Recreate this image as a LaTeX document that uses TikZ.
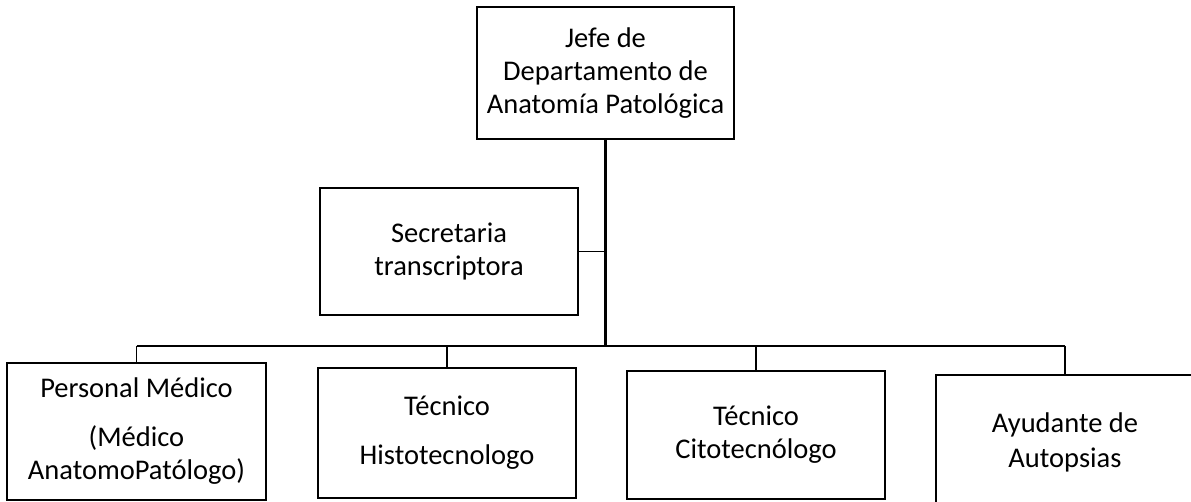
\documentclass[tikz,border=0pt]{standalone}
\usepackage{fontspec}
\setmainfont{Carlito}
\begin{document}
\begin{tikzpicture}[x=1pt,y=-1pt,
  orgbox/.style={draw=black,line width=1.8pt,rectangle,align=center,inner sep=0pt,
    font=\fontsize{28.5}{33}\selectfont},
  link/.style={draw=black,line width=2.6pt},
  thinlink/.style={draw=black,line width=1.6pt}]
\useasboundingbox (0,0) rectangle (1191,502);
\begin{scope}
\clip (0,0) rectangle (1191,502);
\node[orgbox,minimum width=257pt,minimum height=132pt] (top) at (605.5,73)
  {Jefe de\\Departamento de\\Anatomía Patológica};
\node[orgbox,minimum width=258pt,minimum height=127pt] (sec) at (449,251.5)
  {Secretaria\\transcriptora};
\node[orgbox,minimum width=259pt,minimum height=137pt] (b1) at (136.5,431.5)
  {Personal Médico\\[16pt](Médico\\AnatomoPatólogo)};
\node[orgbox,minimum width=258pt,minimum height=130pt] (b2) at (447,433)
  {Técnico\\[16pt]Histotecnologo};
\node[orgbox,minimum width=258pt,minimum height=128pt] (b3) at (756,435)
  {Técnico\\Citotecnólogo};
\node[orgbox,minimum width=258pt,minimum height=150pt] (b4) at (1065,450)
  {};
\node[font=\fontsize{28.5}{35}\selectfont,align=center,inner sep=0pt] (b4t) at (b4.center |- 0,442)
  {Ayudante de\\Autopsias};
\coordinate (bus) at (603,346);
\draw[link] (top.south) -- (top.south |- bus);
\draw[thinlink] (sec.east) -- (sec.east -| top.south);
\draw[link] (b1.north |- bus) -- (b4.north |- bus);
\draw[thinlink] (b1.north |- bus) -- (b1.north);
\draw[thinlink] (b2.north |- bus) -- (b2.north);
\draw[thinlink] (b3.north |- bus) -- (b3.north);
\draw[thinlink] (b4.north |- bus) -- (b4.north);
\end{scope}
\end{tikzpicture}
\end{document}
